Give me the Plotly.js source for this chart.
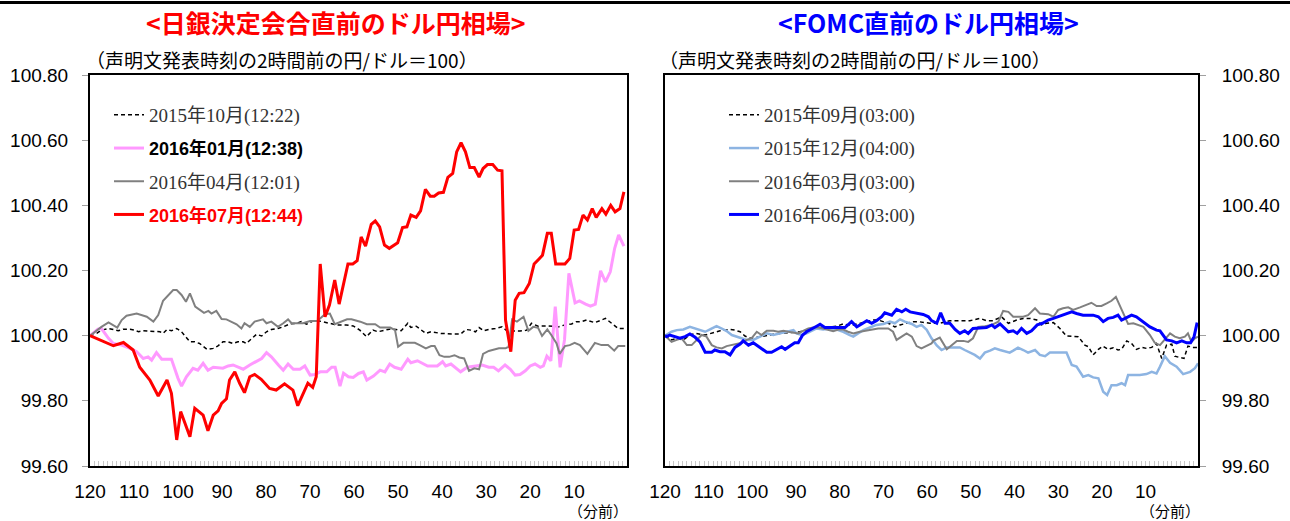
<!DOCTYPE html>
<html><head><meta charset="utf-8">
<script src="https://cdn.plot.ly/plotly-3.0.1.min.js"></script>
<style>html,body{margin:0;padding:0;background:#fff}</style>
</head><body><div id="chart" style="width:1290px;height:521px"></div>
<script>
// ---- x-axis tick labels (minutes before statement) ----
const tickVals = [120,110,100,90,80,70,60,50,40,30,20,10];
const tickText = ["120","110","100","90","80","70","60","50","40","30","20","10"];

// ---- Left chart: BOJ meeting ----
const bojNames = ["2015年10月(12:22)","2016年01月(12:38)","2016年04月(12:01)","2016年07月(12:44)"];
const boj1510X = [120,118.5,117.4,115.8,114.7,113.6,112.4,110.9,109.8,109.0,107.9,105.6,104.1,103.4,102.5,101.5,100.3,99.2,98.1,97.3,96.2,95.1,93.4,92.0,91.0,89.8,88.6,87.5,86.4,85.2,84.5,83.3,82.2,81.0,79.9,78.8,77.3,76.1,74.6,73.1,72.0,70.8,69.4,68.2,66.7,65.6,64.1,61.8,60.2,58.7,57.2,55.7,54.6,53.1,52.0,50.5,49.3,47.8,47.1,45.9,44.8,43.7,42.5,41.4,40.3,37.3,35.8,34.6,33.5,32.4,31.6,30.5,29.4,27.9,26.4,25.3,24.1,22.3,20.8,19.7,18.2,15.9,13.6,12.1,10.6,9.5,8.3,7.2,5.3,3.8,2.9,1.5,0.0,-1.6];
const boj1510Y = [100.000,100.007,100.017,100.022,100.019,100.015,100.020,100.020,100.017,100.012,100.015,100.014,100.012,100.007,100.019,100.015,100.022,100.012,99.992,99.981,99.981,99.976,99.958,99.961,99.968,99.981,99.981,99.976,99.981,99.981,99.976,99.992,100.004,99.999,100.012,100.019,100.022,100.027,100.036,100.038,100.043,100.035,100.045,100.046,100.040,100.038,100.033,100.033,100.030,100.017,99.997,100.017,100.012,100.017,100.020,100.019,100.015,100.038,100.025,100.029,100.017,100.007,100.012,100.009,100.007,100.005,100.005,100.019,100.017,100.012,100.025,100.015,100.019,100.022,100.027,100.015,100.014,100.014,100.017,100.038,100.029,100.030,100.027,100.033,100.036,100.043,100.043,100.048,100.040,100.048,100.053,100.038,100.022,100.022];

const boj1601X = [120,118.2,117.4,115.8,114.7,112.8,110.9,109.4,107.9,106.8,106.0,104.9,103.7,101.5,100.0,99.2,98.1,96.6,95.5,94.3,93.2,92.0,89.8,88.6,87.5,86.4,85.2,83.7,82.2,81.0,79.9,78.8,77.2,76.1,75.0,73.8,72.3,71.2,70.0,68.9,67.7,66.2,65.1,64.3,63.2,62.4,61.3,60.2,59.0,57.9,57.1,55.6,54.1,53.0,51.9,50.8,49.3,47.8,47.1,45.6,43.3,41.1,39.9,39.2,38.0,36.9,35.8,34.3,32.8,30.9,29.4,28.3,27.2,25.7,24.5,23.4,22.3,21.1,20.0,18.9,17.7,17.0,16.2,15.3,14.3,13.2,12.2,11.2,9.8,8.8,7.4,6.3,5.2,4.0,2.9,1.8,0.8,-0.1,-1.3];
const boj1601Y = [100.000,100.020,100.022,99.992,99.976,99.971,99.961,99.951,99.930,99.935,99.925,99.948,99.928,99.928,99.869,99.845,99.874,99.900,99.894,99.915,99.894,99.903,99.900,99.907,99.910,99.903,99.897,99.910,99.922,99.930,99.948,99.935,99.910,99.894,99.913,99.897,99.897,99.907,99.879,99.881,99.889,99.889,99.903,99.903,99.845,99.885,99.874,99.872,99.884,99.889,99.864,99.876,99.894,99.889,99.913,99.903,99.897,99.928,99.917,99.923,99.907,99.907,99.920,99.907,99.913,99.900,99.889,99.903,99.907,99.910,99.903,99.903,99.892,99.910,99.897,99.879,99.881,99.892,99.907,99.913,99.903,99.907,99.937,99.923,100.089,99.903,99.987,100.191,100.101,100.107,100.097,100.091,100.097,100.199,100.165,100.196,100.268,100.309,100.275];

const boj1604X = [120,118.5,117.4,115.8,114.7,113.8,112.8,111.7,109.4,107.1,105.6,104.5,103.4,102.2,101.1,100.3,99.2,98.2,97.3,96.1,95.0,94.1,93.1,92.4,91.3,90.1,89.0,87.9,86.7,85.6,84.9,83.7,82.6,80.7,79.9,78.8,77.3,76.1,75.0,74.2,71.6,70.0,68.4,66.6,65.5,64.4,62.9,61.6,60.6,58.6,57.1,55.2,54.1,51.8,50.7,50.0,48.8,46.2,45.1,43.7,42.5,41.7,40.6,39.5,38.4,37.2,36.1,35.0,33.9,32.7,31.6,30.7,29.4,28.2,27.1,25.6,24.9,24.1,23.0,21.5,20.4,19.3,18.2,17.3,16.1,15.2,14.0,13.3,12.1,11.0,9.9,8.7,7.0,5.3,3.8,2.3,0.9,0.0,-1.6];
const boj1604Y = [100.000,100.017,100.027,100.041,100.033,100.025,100.048,100.061,100.068,100.058,100.043,100.063,100.107,100.125,100.140,100.140,100.125,100.104,100.130,100.089,100.079,100.070,100.076,100.068,100.076,100.051,100.050,100.043,100.035,100.022,100.038,100.027,100.043,100.050,100.038,100.043,100.027,100.038,100.050,100.038,100.038,100.045,100.045,100.066,100.068,100.035,100.043,100.050,100.050,100.043,100.035,100.035,100.025,100.025,100.017,99.966,99.978,99.978,99.971,99.961,99.968,99.968,99.940,99.935,99.935,99.940,99.933,99.930,99.892,99.900,99.897,99.944,99.953,99.956,99.961,99.961,99.966,100.050,100.043,100.058,100.015,100.027,100.024,99.999,100.019,100.002,99.976,99.944,99.968,99.971,99.978,99.971,99.944,99.978,99.971,99.971,99.954,99.968,99.968];

const boj1607X = [120,117.7,114.7,112.4,110.2,108.7,106.4,104.5,102.5,101.5,100.3,99.4,97.3,96.2,94.3,93.2,92.0,90.9,90.1,89.0,88.3,87.1,86.0,84.9,83.7,82.6,81.1,79.2,77.7,75.8,73.9,72.8,70.5,69.4,68.6,67.7,66.6,65.6,64.4,63.4,61.4,60.3,59.3,58.4,57.4,56.1,55.2,54.2,53.1,52.0,50.1,49.0,48.0,47.1,45.9,44.9,43.8,42.7,41.8,40.8,39.7,38.7,37.6,36.7,35.7,34.7,33.7,32.7,31.6,30.7,29.7,28.5,27.4,26.4,25.6,24.4,23.4,22.5,21.4,20.2,19.1,18.1,17.2,16.1,15.2,14.2,12.1,11.0,10.0,9.0,8.0,7.0,5.9,5.0,3.7,2.8,1.7,0.7,-0.4,-1.3];
const boj1607Y = [100.000,99.987,99.969,99.979,99.956,99.903,99.864,99.815,99.864,99.823,99.680,99.767,99.690,99.777,99.756,99.708,99.756,99.769,99.792,99.806,99.864,99.889,99.854,99.825,99.874,99.881,99.866,99.838,99.833,99.852,99.833,99.785,99.854,99.841,99.874,100.220,100.058,100.094,100.171,100.097,100.220,100.220,100.230,100.303,100.275,100.342,100.352,100.334,100.278,100.268,100.285,100.332,100.334,100.370,100.363,100.383,100.449,100.428,100.428,100.438,100.440,100.486,100.498,100.564,100.592,100.564,100.516,100.516,100.487,100.513,100.525,100.525,100.508,100.506,100.048,99.951,100.109,100.130,100.132,100.160,100.220,100.234,100.247,100.314,100.314,100.220,100.220,100.237,100.324,100.326,100.370,100.355,100.390,100.363,100.390,100.373,100.400,100.380,100.390,100.441];

// ---- Right chart: FOMC ----
const fomcNames = ["2015年09月(03:00)","2015年12月(04:00)","2016年03月(03:00)","2016年06月(03:00)"];
const fomc1509X = [120,118.5,117.3,115.8,114.3,113.1,110.8,109.7,108.6,107.4,106.3,105.1,104.0,102.8,101.7,100.5,99.4,98.3,96.7,95.2,93.7,92.2,90.6,89.1,87.6,86.4,85.3,83.8,82.2,80.7,79.2,78.1,76.9,75.4,73.8,72.3,71.2,70.0,68.5,67.4,66.2,64.7,63.2,62.0,60.9,59.4,57.1,54.8,50.2,47.9,46.4,44.9,43.0,41.4,39.5,38.0,36.5,34.9,33.8,32.7,31.1,29.6,28.1,26.6,25.4,23.9,23.1,22.0,20.8,19.8,18.6,17.4,16.3,15.5,14.3,13.2,12.1,10.9,9.8,8.6,7.5,6.3,5.2,4.0,3.3,2.2,1.2,0.3,-0.9,-2.0];
const fomc1509Y = [100.000,99.987,99.992,99.987,100.002,100.007,100.002,100.007,100.012,100.015,100.017,100.019,100.017,100.012,99.999,99.992,99.994,99.997,100.002,100.004,100.007,100.009,100.009,100.012,100.017,100.022,100.025,100.025,100.027,100.029,100.036,100.033,100.033,100.038,100.043,100.048,100.048,100.043,100.036,100.027,100.033,100.038,100.043,100.043,100.040,100.038,100.038,100.046,100.046,100.053,100.046,100.046,100.058,100.038,100.048,100.053,100.053,100.048,100.033,100.038,100.040,100.022,99.999,99.999,99.997,99.971,99.966,99.941,99.958,99.968,99.958,99.963,99.956,99.958,99.984,99.976,99.958,99.964,99.961,99.964,99.976,99.930,99.971,99.974,99.937,99.933,99.930,99.968,99.964,99.964];

const fomc1512X = [120,118.5,117.3,115.8,114.3,113.1,112.0,110.8,109.7,108.2,107.0,105.9,104.7,103.6,102.4,101.3,99.8,98.3,96.7,95.2,93.7,92.2,90.6,89.9,88.7,87.6,86.4,85.3,83.8,82.2,80.7,79.2,77.7,76.9,75.8,74.6,73.1,71.6,70.0,68.5,67.4,66.2,65.1,63.5,62.4,61.3,60.1,59.0,57.8,56.7,55.5,52.5,51.4,50.2,49.1,47.9,46.8,45.6,44.5,43.3,42.2,41.1,40.3,39.2,38.0,36.9,35.3,34.2,33.0,31.9,28.1,26.9,25.8,24.3,23.1,22.0,20.8,19.7,18.8,17.8,16.6,15.5,14.7,14.0,11.3,9.8,8.6,7.5,6.7,5.6,4.4,2.9,1.4,-0.2,-1.3,-2.0];
const fomc1512Y = [100.000,100.012,100.017,100.019,100.027,100.022,100.017,100.012,100.019,100.029,100.022,100.014,100.002,99.997,99.992,99.987,99.987,99.997,100.007,100.002,100.007,100.012,100.017,100.007,100.002,100.007,100.015,100.022,100.019,100.022,100.019,100.012,100.002,99.997,100.007,100.017,100.025,100.033,100.036,100.043,100.038,100.050,100.043,100.036,100.027,100.033,100.018,99.992,99.970,99.956,99.964,99.964,99.956,99.948,99.941,99.930,99.948,99.954,99.961,99.956,99.951,99.948,99.954,99.963,99.956,99.948,99.956,99.941,99.937,99.948,99.948,99.910,99.905,99.874,99.879,99.872,99.869,99.828,99.818,99.848,99.848,99.854,99.848,99.879,99.879,99.882,99.889,99.884,99.905,99.937,99.917,99.905,99.882,99.889,99.900,99.915];

const fomc1603X = [120,118.5,117.3,116.2,115.0,113.9,112.7,111.6,110.5,109.3,108.2,107.0,105.9,103.6,102.4,101.3,100.2,99.0,97.9,96.7,95.2,94.1,92.9,91.8,90.6,89.5,88.4,87.2,86.1,84.9,83.8,82.6,81.5,80.3,79.2,78.1,76.9,75.4,73.8,72.3,71.2,68.9,67.8,67.0,65.8,64.7,63.5,62.4,61.3,60.1,59.0,58.6,57.1,55.5,54.4,53.2,51.7,50.6,49.5,48.3,46.8,45.2,43.7,42.6,41.4,40.3,38.0,36.9,35.3,34.2,32.3,31.1,30.0,28.9,27.7,26.6,25.0,23.5,22.4,21.2,20.1,18.9,17.8,16.8,15.9,15.1,14.0,12.8,11.7,10.5,9.0,7.9,6.7,5.6,4.4,3.3,2.2,1.0,0.3,-0.5,-1.3,-2.0];
const fomc1603Y = [100.000,99.981,99.987,99.992,99.971,99.971,99.987,100.002,99.997,99.971,99.964,99.961,99.968,99.974,99.978,99.987,99.992,100.012,100.002,100.015,100.015,100.012,100.015,100.012,100.009,100.007,100.015,100.022,100.025,100.025,100.022,100.019,100.014,100.019,100.019,100.012,100.007,100.012,100.015,100.019,100.022,100.022,100.012,99.987,99.997,100.007,99.997,99.968,99.961,99.969,99.976,99.984,99.994,99.958,99.971,99.984,99.984,99.981,99.992,100.027,100.029,100.033,100.043,100.076,100.073,100.058,100.058,100.063,100.084,100.068,100.066,100.058,100.079,100.084,100.087,100.079,100.087,100.094,100.101,100.091,100.091,100.099,100.107,100.119,100.094,100.068,100.036,100.038,100.033,100.027,100.002,99.978,99.971,99.987,100.007,99.997,99.992,99.997,100.007,99.981,99.992,99.997];

const fomc1606X = [120,119.6,118.9,117.7,116.6,115.4,114.3,113.1,112.0,110.8,109.3,108.6,107.4,106.3,105.1,104.0,102.8,102.1,100.9,99.8,98.6,96.7,95.6,94.4,93.3,92.5,91.4,90.3,89.5,88.5,87.6,86.4,85.3,84.5,83.4,80.7,78.8,77.3,76.1,75.0,73.8,72.7,71.6,70.4,69.7,68.1,67.0,65.8,64.9,63.9,62.4,60.9,59.7,59.0,57.8,56.9,55.9,54.8,53.6,52.5,51.4,50.6,49.5,46.4,45.2,44.5,43.3,42.2,41.4,40.3,39.4,38.4,37.2,36.1,34.8,33.6,32.3,31.1,29.6,28.1,26.9,25.8,24.3,22.0,20.8,19.7,18.6,17.4,16.3,15.5,14.3,13.2,12.1,10.5,9.0,7.5,6.7,5.2,4.0,2.9,1.7,0.6,-0.3,-1.1,-1.8];
const fomc1606Y = [100.000,99.997,100.002,99.997,99.992,99.997,100.005,99.995,99.981,99.949,99.949,99.956,99.951,99.951,99.941,99.964,99.974,99.984,99.971,99.978,99.966,99.949,99.949,99.959,99.966,99.958,99.968,99.978,99.978,100.002,100.012,100.022,100.029,100.035,100.025,100.025,100.025,100.043,100.027,100.036,100.046,100.038,100.046,100.058,100.070,100.063,100.081,100.073,100.081,100.073,100.070,100.065,100.058,100.046,100.038,100.070,100.038,100.038,100.019,100.007,100.015,100.007,100.022,100.025,100.033,100.025,100.036,100.022,100.012,100.015,100.007,100.022,100.007,100.015,100.033,100.038,100.048,100.053,100.060,100.068,100.073,100.068,100.063,100.063,100.058,100.043,100.053,100.056,100.063,100.048,100.056,100.063,100.058,100.043,100.027,100.017,100.015,99.987,99.984,99.978,99.984,99.978,99.978,99.997,100.040];

// ---- helpers for page geometry ----
const W = 1290, H = 521;
const px = v => v / W;
const py = v => 1 - v / H;

const serif = "Liberation Serif, Noto Sans CJK JP, serif";
const legPlain = (t) => t;
const legBold = (t, c) => `<span style="font-family:Liberation Sans, Noto Sans CJK JP;font-size:18px;color:${c}"><b>${t}</b></span>`;

const traces = [
  {x: boj1510X, y: boj1510Y, name: legPlain(bojNames[0]), line: {color: '#000000', width: 1.5, dash: '4px,3px'}},
  {x: boj1601X, y: boj1601Y, name: legBold(bojNames[1], '#000000'), line: {color: '#FF99FF', width: 3}},
  {x: boj1604X, y: boj1604Y, name: legPlain(bojNames[2]), line: {color: '#808080', width: 2}},
  {x: boj1607X, y: boj1607Y, name: legBold(bojNames[3], '#FF0000'), line: {color: '#FF0000', width: 3}},
].map((t, i) => Object.assign(t, {type: 'scatter', mode: 'lines', xaxis: 'x', yaxis: 'y', legend: 'legend', legendgroup: 'a' + i, hoverinfo: 'skip'}));

const traces2 = [
  {x: fomc1509X, y: fomc1509Y, name: fomcNames[0], line: {color: '#000000', width: 1.5, dash: '4px,3px'}},
  {x: fomc1512X, y: fomc1512Y, name: fomcNames[1], line: {color: '#8DB4E2', width: 2.5}},
  {x: fomc1603X, y: fomc1603Y, name: fomcNames[2], line: {color: '#808080', width: 2}},
  {x: fomc1606X, y: fomc1606Y, name: fomcNames[3], line: {color: '#0000FF', width: 3}},
].map((t, i) => Object.assign(t, {type: 'scatter', mode: 'lines', xaxis: 'x2', yaxis: 'y2', legend: 'legend2', legendgroup: 'b' + i, hoverinfo: 'skip'}));

const tickFont = {family: 'Liberation Sans, Arial, sans-serif', size: 19, color: '#000'};
const xCommon = {
  range: [120, -2], tickmode: 'array', tickvals: tickVals, ticktext: tickText,
  showline: true, mirror: true, linecolor: '#000', linewidth: 2,
  ticks: 'inside', ticklen: 5, tickcolor: '#c8c8c8', tickwidth: 1,
  minor: {tickmode: 'linear', tick0: 0, dtick: 1, ticks: 'inside', ticklen: 5, tickcolor: '#c8c8c8', tickwidth: 1, showgrid: false},
  showgrid: false, zeroline: false, tickfont: tickFont, ticklabelstandoff: 7, fixedrange: true
};
const yDomain = [1 - 466 / H, 1 - 75 / H];
const yCommon = {
  range: [99.6, 100.8], tickmode: 'linear', tick0: 99.6, dtick: 0.2, tickformat: '.2f',
  showline: true, mirror: true, linecolor: '#000', linewidth: 2,
  ticks: 'outside', ticklen: 6, tickcolor: '#a0a0a0', tickwidth: 1,
  showgrid: false, zeroline: false, tickfont: tickFont, domain: yDomain, fixedrange: true
};

const legendCommon = {
  xanchor: 'left', yanchor: 'top', bgcolor: 'rgba(0,0,0,0)', borderwidth: 0,
  font: {family: serif, size: 19, color: '#333333'}, tracegroupgap: 5.5, itemwidth: 30, itemclick: false
};

const layout = {
  width: W, height: H, margin: {l: 0, r: 0, t: 0, b: 0},
  paper_bgcolor: '#fff', plot_bgcolor: '#fff', showlegend: true,
  xaxis: Object.assign({}, xCommon, {domain: [px(90), px(627)], anchor: 'y'}),
  yaxis: Object.assign({}, yCommon, {anchor: 'x', side: 'left', ticklabelstandoff: 10}),
  xaxis2: Object.assign({}, xCommon, {domain: [px(665), px(1198)], anchor: 'y2'}),
  yaxis2: Object.assign({}, yCommon, {anchor: 'x2', side: 'right', ticklabelstandoff: 12}),
  legend: Object.assign({}, legendCommon, {x: px(109), y: py(96)}),
  legend2: Object.assign({}, legendCommon, {x: px(724), y: py(96)}),
  shapes: [
    {type: 'line', xref: 'paper', yref: 'paper', x0: 0, x1: 1, y0: py(2.5), y1: py(2.5), line: {color: '#000', width: 3}}
  ],
  annotations: [
    {xref: 'paper', yref: 'paper', x: px(336), y: py(22), xanchor: 'center', yanchor: 'middle', showarrow: false,
     text: '<b>&lt;日銀決定会合直前のドル円相場&gt;</b>', font: {family: 'Noto Sans CJK JP', size: 25, color: '#FF0000'}},
    {xref: 'paper', yref: 'paper', x: px(928), y: py(22), xanchor: 'center', yanchor: 'middle', showarrow: false,
     text: '<b>&lt;FOMC直前のドル円相場&gt;</b>', font: {family: 'Noto Sans CJK JP', size: 25, color: '#0000FF'}},
    {xref: 'paper', yref: 'paper', x: px(84), y: py(60), xanchor: 'left', yanchor: 'middle', showarrow: false,
     text: '（声明文発表時刻の2時間前の円/ドル＝100）', font: {family: 'Noto Sans CJK JP', size: 19, color: '#000'}},
    {xref: 'paper', yref: 'paper', x: px(657), y: py(60), xanchor: 'left', yanchor: 'middle', showarrow: false,
     text: '（声明文発表時刻の2時間前の円/ドル＝100）', font: {family: 'Noto Sans CJK JP', size: 19, color: '#000'}},
    {xref: 'paper', yref: 'paper', x: px(598), y: 0, xanchor: 'center', yanchor: 'bottom', yshift: -2, showarrow: false,
     text: '（分前）', font: {family: 'Noto Sans CJK JP', size: 15, color: '#000'}},
    {xref: 'paper', yref: 'paper', x: px(1170), y: 0, xanchor: 'center', yanchor: 'bottom', yshift: -2, showarrow: false,
     text: '（分前）', font: {family: 'Noto Sans CJK JP', size: 15, color: '#000'}}
  ]
};

Plotly.newPlot('chart', traces.concat(traces2), layout, {staticPlot: true, displayModeBar: false});
</script></body></html>
